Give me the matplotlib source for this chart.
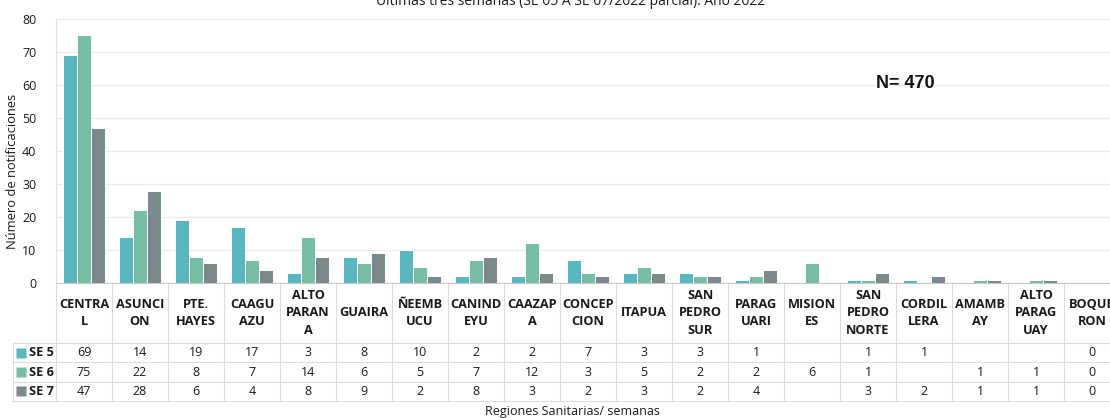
import numpy as np
import matplotlib
matplotlib.use("Agg")
import matplotlib.pyplot as plt
from matplotlib.transforms import blended_transform_factory

plt.rcParams['font.family'] = ['Open Sans', 'DejaVu Sans']

# datos: notificaciones por region sanitaria, ultimas tres semanas
regiones = ["CENTRA\nL", "ASUNCI\nON", "PTE.\nHAYES", "CAAGU\nAZU", "ALTO\nPARAN\nA",
            "GUAIRA", "ÑEEMB\nUCU", "CANIND\nEYU", "CAAZAP\nA", "CONCEP\nCION",
            "ITAPUA", "SAN\nPEDRO\nSUR", "PARAG\nUARI", "MISION\nES", "SAN\nPEDRO\nNORTE",
            "CORDIL\nLERA", "AMAMB\nAY", "ALTO\nPARAG\nUAY", "BOQUE\nRON"]
semanas = ["SE 5", "SE 6", "SE 7"]
se5 = [69, 14, 19, 17, 3, 8, 10, 2, 2, 7, 3, 3, 1, None, 1, 1, None, None, 0]
se6 = [75, 22, 8, 7, 14, 6, 5, 7, 12, 3, 5, 2, 2, 6, 1, None, 1, 1, 0]
se7 = [47, 28, 6, 4, 8, 9, 2, 8, 3, 2, 3, 2, 4, None, 3, 2, 1, 1, 0]
colores = ["#5AB6C1", "#76BEA6", "#7B8B8C"]
yticks = list(range(0, 81, 10))

W, H = 1110, 418
fig = plt.figure(figsize=(W / 100, H / 100), dpi=100)
# axis runs a bit past the right edge, as in the original
ax = fig.add_axes([56 / W, 1 - 283 / H, (1120 - 56) / W, (283 - 19) / H])

x = np.arange(len(regiones))
w = 0.255
series = [se5, se6, se7]
for k, (vals, c) in enumerate(zip(series, colores)):
    h = [v if v is not None else 0 for v in vals]
    ax.bar(x + (k - 1) * w, h, w, color=c, edgecolor="white", linewidth=0.7, zorder=3)

ax.set_xlim(-0.5, len(regiones) - 0.5)
ax.set_ylim(0, 80)
ax.set_yticks(yticks)
ax.set_xticks([])
ax.tick_params(axis="y", length=0, pad=14, labelsize=9, labelcolor="#1a1a1a")
ax.grid(axis="y", color="#EBEBEB", linewidth=0.9, zorder=0)
for s in ["top", "right"]:
    ax.spines[s].set_visible(False)
ax.spines["left"].set_color("#E2E2E2")
ax.spines["bottom"].set_color("#C8C8C8")

# tabla de datos debajo del grafico
tr = blended_transform_factory(ax.transData, ax.transAxes)
def ya(p):
    return (283 - p) / 264.0
def xd(p):
    return -0.5 + (p - 56) / 56.0

gc = "#DCDCDC"
n = len(regiones)
for i in range(n + 1):
    ax.plot([i - 0.5, i - 0.5], [ya(283), ya(401)], color=gc, lw=0.8,
            transform=tr, clip_on=False)
ax.plot([xd(13), xd(13)], [ya(343), ya(401)], color=gc, lw=0.8, transform=tr, clip_on=False)
for p in [343, 362.3, 381.7, 401]:
    ax.plot([xd(13), n - 0.5], [ya(p), ya(p)], color=gc, lw=0.8, transform=tr, clip_on=False)

for i, lab in enumerate(regiones):
    ax.text(i, ya(313), lab, ha="center", va="center", fontsize=9.2, fontweight="bold",
            linespacing=1.42, color="#1a1a1a", transform=tr, clip_on=False)

filas = [352.6, 372, 391.3]
for k, (vals, c) in enumerate(zip(series, colores)):
    ax.plot([xd(21)], [ya(filas[k])], marker="s", ms=6.5, color=c, mec="none",
            transform=tr, clip_on=False)
    ax.text(xd(29), ya(filas[k]), semanas[k], ha="left", va="center", fontsize=9.2,
            fontweight="bold", color="#1a1a1a", transform=tr, clip_on=False)
    for i, v in enumerate(vals):
        if v is None:
            continue
        ax.text(i, ya(filas[k]), str(v), ha="center", va="center", fontsize=9,
                color="#1a1a1a", transform=tr, clip_on=False)

fig.text(571 / W, 1 - 5 / H, "Ultimas tres semanas (SE 05 A SE 07/2022 parcial). Año 2022",
         ha="center", va="baseline", fontsize=10, color="#1a1a1a")
fig.text(13 / W, 1 - 171 / H, "Número de notificaciones", rotation=90, ha="center",
         va="center", fontsize=9.3, color="#1a1a1a")
fig.text(572 / W, 1 - 411 / H, "Regiones Sanitarias/ semanas", ha="center", va="center",
         fontsize=9, color="#1a1a1a")
fig.text(876 / W, 1 - 83 / H, "N= 470", ha="left", va="center", fontsize=13,
         fontweight="bold", family="Liberation Sans", color="#111111")

fig.savefig("out.png", dpi=100)
